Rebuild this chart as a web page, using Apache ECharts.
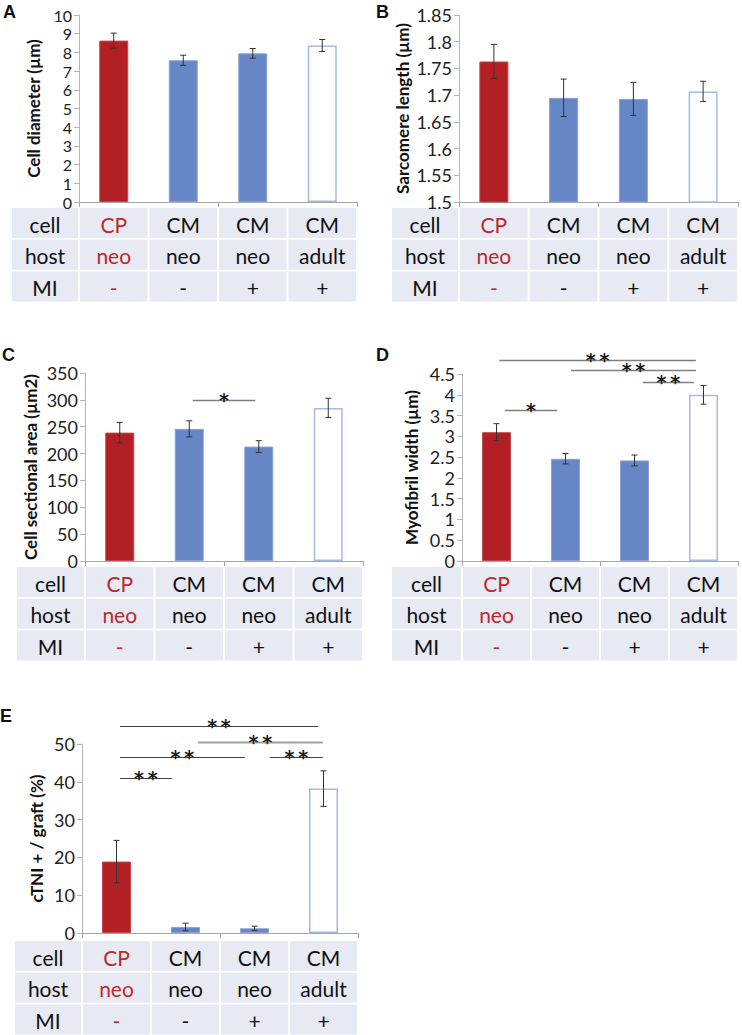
<!DOCTYPE html>
<html><head><meta charset="utf-8">
<script src="https://cdn.jsdelivr.net/npm/echarts@6/dist/echarts.min.js"></script>
<style>html,body{margin:0;padding:0;background:#fff}#c{width:742px;height:1035px}</style>
</head><body><div id="c"></div>
<script>
// ---------- data ----------
const groups = ['CP/neo/MI-', 'CM/neo/MI-', 'CM/neo/MI+', 'CM/adult/MI+'];
const rowLabels = ['cell', 'host', 'MI'];
const cellRow = ['CP', 'CM', 'CM', 'CM'];
const hostRow = ['neo', 'neo', 'neo', 'adult'];
const miRow = ['-', '-', '+', '+'];

const diamMean = [8.63, 7.58, 7.95, 8.37];
const diamErr  = [0.40, 0.27, 0.26, 0.32];
const sarcMean = [1.763, 1.695, 1.693, 1.707];
const sarcErr  = [0.032, 0.035, 0.031, 0.019];
const areaMean = [239, 246, 213, 285];
const areaErr  = [19, 15, 11, 18];
const myoMean  = [3.10, 2.46, 2.42, 4.00];
const myoErr   = [0.205, 0.125, 0.13, 0.225];
const ctniMean = [18.9, 1.6, 1.25, 38.2];
const ctniErr  = [5.6, 1.0, 0.55, 4.7];

// significance brackets: [from category, to category, y value, label]
const sigA = [];
const sigB = [];
const sigC = [[1.05, 1.95, 300, '*']];
const sigD = [[0.04, 2.89, 4.84, '**'], [1.08, 2.89, 4.60, '**'], [2.12, 2.86, 4.30, '**'], [0.12, 0.88, 3.63, '*']];
const sigE = [[0.05, 2.92, 54.8, '**'], [1.18, 2.99, 50.5, '**'], [0.05, 1.86, 46.5, '**'], [2.22, 2.99, 46.5, '**'], [0.05, 0.80, 40.9, '**']];

// ---------- styling / layout ----------
const RED = '#B22025', BLUE = '#6786C6', LIGHTBLUE = '#A6BAE4', TXTRED = '#C0272D';
const TABLEBG = '#E7E9F3';
const FONT = 'Lato';
const barStyles = [
  {color: RED, borderColor: '#C0474A', borderWidth: 1},
  {color: BLUE, borderColor: '#8AA2D6', borderWidth: 1},
  {color: BLUE, borderColor: '#8AA2D6', borderWidth: 1},
  {color: '#ffffff', borderColor: LIGHTBLUE, borderWidth: 1.5}
];
const panels = [
  {letter: 'A', name: 'Cell diameter (µm)', mean: diamMean, err: diamErr, sig: sigA,
   axis: {min: 0, max: 10, interval: 1}, grid: {left: 79, top: 15, width: 278, height: 187},
   nameGap: 37, labelSize: 16, letterPos: [3, 3], table: {left: 12, top: 208}},
  {letter: 'B', name: 'Sarcomere length (µm)', mean: sarcMean, err: sarcErr, sig: sigB,
   axis: {min: 1.5, max: 1.85, interval: 0.05}, grid: {left: 459, top: 15, width: 279, height: 187},
   nameGap: 48, labelSize: 18, letterPos: [376, 3], table: {left: 392, top: 208}},
  {letter: 'C', name: 'Cell sectional area (µm2)', mean: areaMean, err: areaErr, sig: sigC,
   axis: {min: 0, max: 350, interval: 50}, grid: {left: 85, top: 373, width: 278, height: 188},
   nameGap: 46, labelSize: 18, letterPos: [2, 346], table: {left: 17, top: 567}},
  {letter: 'D', name: 'Myofibril width (µm)', mean: myoMean, err: myoErr, sig: sigD,
   axis: {min: 0, max: 4.5, interval: 0.5}, grid: {left: 462, top: 374, width: 276, height: 187},
   nameGap: 42, labelSize: 18, letterPos: [376, 346], table: {left: 392, top: 567}},
  {letter: 'E', name: 'cTNI + / graft (%)', mean: ctniMean, err: ctniErr, sig: sigE,
   axis: {min: 0, max: 50, interval: 10}, grid: {left: 82, top: 744, width: 276, height: 189},
   nameGap: 37, labelSize: 18, letterPos: [0, 707], table: {left: 15, top: 941},
   sigColors: ['#404040', '#A0A0A0', '#404040', '#404040', '#404040'], sigWidths: [1, 2, 1, 1, 1]}
];
const ROWH = 30, ROWGAP = 1.8;

const grids = [], xAxes = [], yAxes = [], series = [], graphic = [];
panels.forEach((p, k) => {
  grids.push(Object.assign({containLabel: false}, p.grid));
  xAxes.push({
    type: 'category', gridIndex: k, data: groups, boundaryGap: true,
    axisLine: {lineStyle: {color: '#A6A6A6', width: 1}},
    axisTick: {show: true, length: 5, lineStyle: {color: '#A6A6A6'}},
    axisLabel: {show: false}, splitLine: {show: false}
  });
  yAxes.push(Object.assign({
    type: 'value', gridIndex: k, name: p.name, nameLocation: 'middle', nameRotate: 90,
    nameGap: p.nameGap,
    nameTextStyle: {fontFamily: FONT, fontWeight: 'bold', fontSize: 17, color: '#111'},
    axisLine: {show: true, lineStyle: {color: '#B5B5B5', width: 1}},
    axisTick: {show: true, length: 5, lineStyle: {color: '#B5B5B5'}},
    axisLabel: {fontFamily: FONT, fontSize: p.labelSize, lineHeight: 14, color: '#222', margin: 7},
    splitLine: {show: false}
  }, p.axis));
  series.push({
    type: 'bar', xAxisIndex: k, yAxisIndex: k, barWidth: 29, z: 2,
    data: p.mean.map((v, i) => ({value: v, itemStyle: barStyles[i]})),
    silent: true
  });
  series.push({
    type: 'custom', xAxisIndex: k, yAxisIndex: k, z: 5, clip: false, silent: true,
    data: p.mean.map((v, i) => [i, v - p.err[i], v + p.err[i]]),
    renderItem: function (params, api) {
      const lo = api.coord([api.value(0), api.value(1)]);
      const hi = api.coord([api.value(0), api.value(2)]);
      const c = 3;
      const st = {stroke: '#333', lineWidth: 1};
      return {type: 'group', children: [
        {type: 'line', shape: {x1: hi[0], y1: hi[1], x2: lo[0], y2: lo[1]}, style: st},
        {type: 'line', shape: {x1: hi[0] - c, y1: hi[1], x2: hi[0] + c, y2: hi[1]}, style: st},
        {type: 'line', shape: {x1: lo[0] - c, y1: lo[1], x2: lo[0] + c, y2: lo[1]}, style: st}
      ]};
    }
  });
  if (p.sig.length) {
    series.push({
      type: 'custom', xAxisIndex: k, yAxisIndex: k, z: 6, clip: false, silent: true,
      data: p.sig.map(s => [s[0], s[2]]),
      renderItem: function (params, api) {
        const s = p.sig[params.dataIndex];
        const base = api.coord([0, s[2]]);
        const band = api.size([1, 0])[0];
        const x1 = base[0] + s[0] * band, x2 = base[0] + s[1] * band;
        const y = Math.round(base[1]) + 0.5;
        const col = p.sigColors ? p.sigColors[params.dataIndex] : '#7F7F7F';
        const lw = p.sigWidths ? p.sigWidths[params.dataIndex] : 1.5;
        const txt = s[3].split('').join('\u2009');
        return {type: 'group', children: [
          {type: 'line', shape: {x1: x1, y1: y, x2: x2, y2: y}, style: {stroke: col, lineWidth: lw}},
          {type: 'text', style: {text: txt, x: (x1 + x2) / 2, y: y - 1, align: 'center', verticalAlign: 'middle',
            font: 'bold 19px "DejaVu Sans"', lineHeight: 10, fill: '#1a1a1a'}}
        ]};
      }
    });
  }
  // panel letter
  graphic.push({type: 'text', x: p.letterPos[0], y: p.letterPos[1], silent: true,
    style: {text: p.letter, font: 'bold 18px "Liberation Sans"', fill: '#111', align: 'left', verticalAlign: 'top'}});
  // table
  const band = p.grid.width / groups.length;
  const rows = [cellRow, hostRow, miRow];
  rows.forEach((row, r) => {
    const ty = p.table.top + r * (ROWH + ROWGAP);
    const cy = ty + ROWH / 2 + 1;
    const c0w = p.grid.left - 1 - p.table.left;
    graphic.push({type: 'rect', silent: true, shape: {x: p.table.left, y: ty, width: c0w, height: ROWH}, style: {fill: TABLEBG}});
    graphic.push({type: 'text', silent: true, x: p.table.left + c0w / 2, y: cy,
      style: {text: rowLabels[r], font: '21px ' + FONT, fill: '#111', align: 'center', verticalAlign: 'middle'}});
    row.forEach((t, i) => {
      const x0 = p.grid.left + i * band + 1;
      const w = band - 2;
      graphic.push({type: 'rect', silent: true, shape: {x: x0, y: ty, width: w, height: ROWH}, style: {fill: TABLEBG}});
      graphic.push({type: 'text', silent: true, x: x0 + w / 2, y: cy,
        style: {text: t, font: '21px ' + FONT, fill: i === 0 ? TXTRED : '#111', align: 'center', verticalAlign: 'middle'}});
    });
  });
});

const chart = echarts.init(document.getElementById('c'), null, {renderer: 'svg'});
chart.setOption({
  animation: false,
  backgroundColor: '#ffffff',
  grid: grids, xAxis: xAxes, yAxis: yAxes, series: series, graphic: graphic
});
</script>
</body></html>
